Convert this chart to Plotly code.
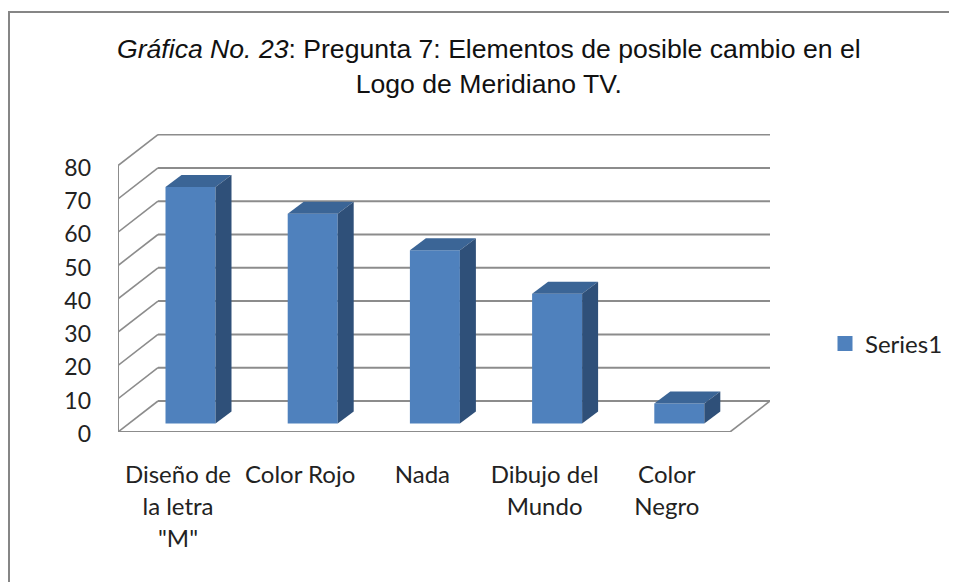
import plotly.graph_objects as go

categories = ['Diseño de<br>la letra<br>"M"', "Color Rojo", "Nada", "Dibujo del<br>Mundo", "Color<br>Negro"]
values = [71, 63, 52, 39, 6]
series_name = "Series1"
y_ticks = [0, 10, 20, 30, 40, 50, 60, 70, 80]

# pixel geometry of the pseudo-3D box (page pixels; the page body adds an 8 px offset)
W, H = 957, 582
PAGE = 8
L, R, T, B = 118, 770, 134, 432
PX_X = 122.2
PX_Y = 3.33
x0 = -60 / PX_X
x1 = x0 + (R - L) / PX_X
y1 = (B - T) / PX_Y
DX = 40 / PX_X      # wall depth
DY = 31 / PX_Y
BAR_W = 50 / PX_X
BAR_SHIFT = 12.5 / PX_X
BAR_BASE = 8.5 / PX_Y
BD_X = 16 / PX_X    # bar depth
BD_Y = 12 / PX_Y
FRONT, TOP_C, SIDE = "#4f81bd", "#3b6596", "#2f5079"
GRID = "#8c8c8c"
INK = "#222222"

xs = list(range(len(values)))
fig = go.Figure()
fig.add_trace(go.Bar(x=[i + BAR_SHIFT for i in xs], y=values, base=BAR_BASE, width=BAR_W,
                     marker=dict(color=FRONT, line_width=0), name=series_name, showlegend=False,
                     hoverinfo="y"))
fig.add_trace(go.Scatter(x=[None], y=[None], mode="markers", name=series_name, showlegend=True,
                         marker=dict(symbol="square", size=15, color=FRONT)))
for i, v in zip(xs, values):
    l = i + BAR_SHIFT - BAR_W / 2
    r = i + BAR_SHIFT + BAR_W / 2
    bot = BAR_BASE
    top = BAR_BASE + v
    fig.add_trace(go.Scatter(x=[l, r, r + BD_X, l + BD_X, l], y=[top, top, top + BD_Y, top + BD_Y, top],
                             mode="lines", fill="toself", fillcolor=TOP_C, line=dict(width=0),
                             showlegend=False, hoverinfo="skip"))
    fig.add_trace(go.Scatter(x=[r, r + BD_X, r + BD_X, r, r], y=[bot, bot + BD_Y, top + BD_Y, top, bot],
                             mode="lines", fill="toself", fillcolor=SIDE, line=dict(width=0),
                             showlegend=False, hoverinfo="skip"))

shapes = []
def seg(xa, ya, xb, yb, w=1.6):
    shapes.append(dict(type="line", xref="x", yref="y", x0=xa, y0=ya, x1=xb, y1=yb,
                       line=dict(color=GRID, width=w), layer="below"))
for t in y_ticks:
    seg(x0, t, x0 + DX, t + DY)
    seg(x0 + DX, t + DY, x1, t + DY, 2)
seg(x0, 0, x0, y_ticks[-1], 2)
seg(x0, 0, x1 - DX, 0, 2)
seg(x1 - DX, 0, x1, DY)
# outer chart border
fx = lambda px: (px - L) / (R - L)
fy = lambda py: (B - py) / (B - T)
shapes.append(dict(type="line", xref="paper", yref="paper", x0=fx(9), x1=fx(9), y0=fy(12), y1=fy(H),
                   line=dict(color="#868686", width=2)))
shapes.append(dict(type="line", xref="paper", yref="paper", x0=fx(8), x1=fx(W), y0=fy(12), y1=fy(12),
                   line=dict(color="#868686", width=2)))

def styled(label):
    return "<br>".join(f"<span style='font-size:24px'>{p}</span>" for p in label.split("<br>"))

fig.update_layout(
    width=W - PAGE, height=H - PAGE, autosize=False,
    margin=dict(l=L - PAGE, r=W - R, t=T - PAGE, b=H - B, pad=0),
    paper_bgcolor="white", plot_bgcolor="rgba(0,0,0,0)",
    shapes=shapes,
    showlegend=True,
    legend=dict(xref="container", yref="container",
                x=(825 - PAGE) / (W - PAGE), y=1 - (344 - PAGE) / (H - PAGE), xanchor="left", yanchor="middle",
                font=dict(family="Lato", size=24, color=INK), bgcolor="rgba(0,0,0,0)",
                itemwidth=30),
    xaxis=dict(range=[x0, x1], tickmode="array", tickvals=xs, ticktext=[styled(c) for c in categories],
               tickfont=dict(family="Lato", size=24.6, color=INK), showgrid=False, zeroline=False,
               showline=False, ticks="", tickangle=0, ticklabelstandoff=25),
    yaxis=dict(range=[0, y1], tickmode="array", tickvals=y_ticks,
               tickfont=dict(family="Lato", size=23, color=INK), showgrid=False, zeroline=False,
               showline=False, ticks="", ticklabelstandoff=26, ticklabelshift=2),
    annotations=[dict(xref="paper", yref="paper", x=fx(489), y=fy(66), xanchor="center", yanchor="middle",
                      showarrow=False, align="center",
                      text="<i>Gráfica No. 23</i>: Pregunta 7: Elementos de posible cambio en el<br>Logo de Meridiano TV.",
                      font=dict(family="Liberation Sans", size=26.6, color="#111111"))],
)
fig.write_html("out.html")
